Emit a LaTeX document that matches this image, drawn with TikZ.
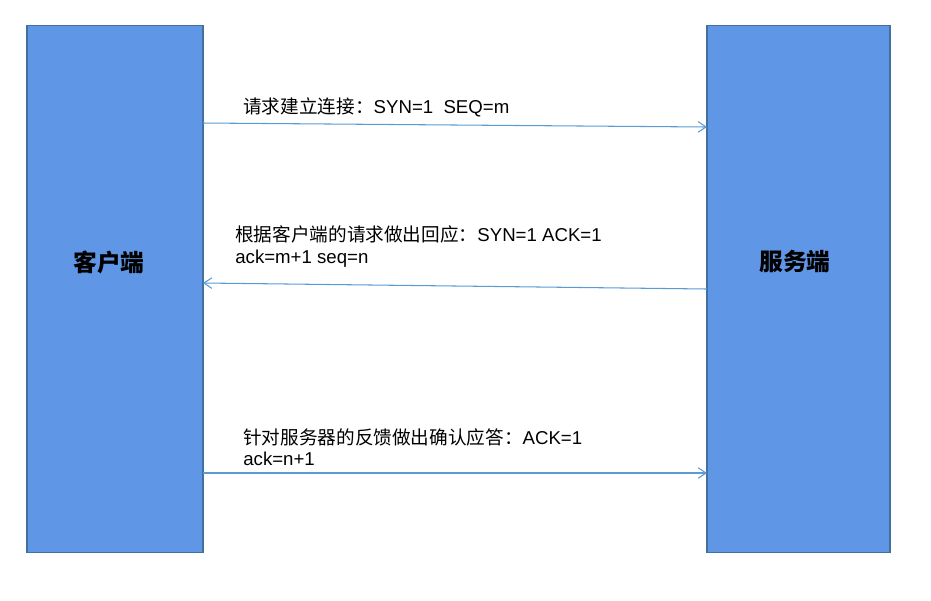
\documentclass[tikz,border=0pt]{standalone}
\usepackage{fontspec}
\setmainfont{Liberation Sans}
\newfontfamily\cjk{Noto Sans CJK SC}
\usepackage{xcolor}
\usetikzlibrary{arrows.meta,positioning}
\definecolor{boxblue}{RGB}{96,150,230}
\definecolor{boxedge}{RGB}{65,113,156}
\definecolor{msgblue}{RGB}{91,155,213}

\tikzset{
  hostbox/.style={draw=boxedge, fill=boxblue, line width=0.6pt, inner sep=0pt},
  hostlabel/.style={font=\fontsize{13.5}{16}\selectfont\cjk\bfseries, text=black},
  msg/.style={draw=msgblue, line width=0.6pt, -{Straight Barb[length=4.5pt,width=6pt]}},
  msglabel/.style={font=\fontsize{10.6}{12}\selectfont, align=left, anchor=west, inner sep=0pt}
}

\begin{document}
\begin{tikzpicture}[x=0.02cm,y=-0.02cm]
			\useasboundingbox (0,0) rectangle (931,600);
			
			\node[hostbox, minimum width=3.52cm, minimum height=10.56cm] (client) at (115,289) {};
			\node[hostlabel] (clientname) at (109,262) {客户端};
			
			\node[hostbox, minimum width=3.66cm, minimum height=10.56cm] (server) at (798.5,289) {};
			\node[hostlabel] (servername) at (795,262) {服务端};
			
			% end points on the box edges
			\coordinate (c1) at (203,123);
			\coordinate (s1) at (707,127);
			\coordinate (s2) at (707,289);
			\coordinate (c2) at (203,283);
			\coordinate (c3) at (203,473);
			\coordinate (s3) at (707,473);
			
			\draw[msg] (c1) -- (s1);
			\node[msglabel] (syn) at (243,107) {{\cjk 请求建立连接：}SYN=1~~SEQ=m};
			
			\draw[msg] (s2) -- (c2);
			\node[msglabel] (synack) at (235,246.5) {{\cjk 根据客户端的请求做出回应：}SYN=1 ACK=1\\ack=m+1 seq=n};
			
			\draw[msg] (c3) -- (s3);
			\node[msglabel] (ack) at (243,447) {{\cjk 针对服务器的反馈做出确认应答：}ACK=1\\ack=n+1};
			
		\end{tikzpicture}
\end{document}
